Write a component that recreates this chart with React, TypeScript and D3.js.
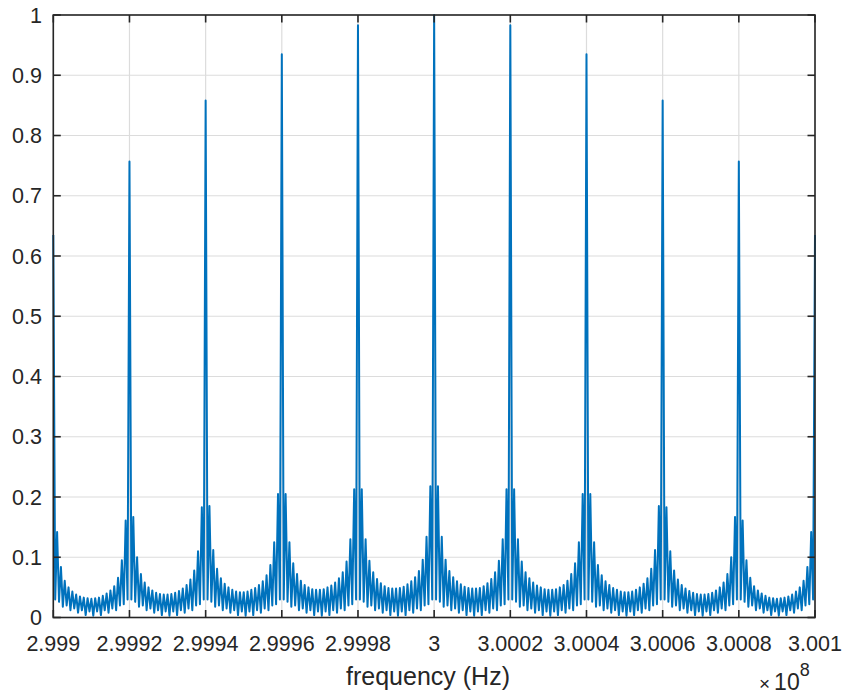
import React from "react";
import * as d3 from "d3";

// ---- data ----
const xTickValues = [2.999, 2.9992, 2.9994, 2.9996, 2.9998, 3, 3.0002, 3.0004, 3.0006, 3.0008, 3.001];
const xTickLabels = ["2.999", "2.9992", "2.9994", "2.9996", "2.9998", "3", "3.0002", "3.0004", "3.0006", "3.0008", "3.001"];
const yTickValues = [0, 0.1, 0.2, 0.3, 0.4, 0.5, 0.6, 0.7, 0.8, 0.9, 1];
const yTickLabels = ["0", "0.1", "0.2", "0.3", "0.4", "0.5", "0.6", "0.7", "0.8", "0.9", "1"];

// main peaks (x 1e8 Hz positions are the tick values)
const peakHeights = [0.635, 0.757, 0.858, 0.935, 0.983, 1.0, 0.983, 0.935, 0.858, 0.757, 0.635];

// upper side-lobe spikes between consecutive peaks (19 per gap)
const seg1 = [0.142, 0.084, 0.061, 0.05, 0.043, 0.038, 0.035, 0.033, 0.032, 0.031, 0.032, 0.033, 0.036, 0.04, 0.045, 0.052, 0.066, 0.095, 0.161];
const seg2 = [0.167, 0.1, 0.072, 0.058, 0.05, 0.045, 0.041, 0.039, 0.038, 0.038, 0.039, 0.041, 0.044, 0.048, 0.054, 0.063, 0.078, 0.11, 0.183];
const seg3 = [0.185, 0.112, 0.081, 0.065, 0.056, 0.05, 0.046, 0.043, 0.042, 0.042, 0.043, 0.046, 0.049, 0.054, 0.06, 0.07, 0.087, 0.125, 0.205];
const seg4 = [0.205, 0.125, 0.09, 0.072, 0.061, 0.054, 0.05, 0.047, 0.046, 0.046, 0.047, 0.05, 0.053, 0.058, 0.065, 0.075, 0.093, 0.13, 0.213];
const seg5 = [0.213, 0.13, 0.094, 0.075, 0.064, 0.057, 0.052, 0.049, 0.048, 0.048, 0.049, 0.051, 0.055, 0.06, 0.067, 0.077, 0.096, 0.134, 0.218];
const seg6 = [0.218, 0.134, 0.096, 0.077, 0.067, 0.06, 0.055, 0.051, 0.049, 0.048, 0.048, 0.049, 0.052, 0.057, 0.064, 0.075, 0.094, 0.13, 0.213];
const seg7 = [0.213, 0.13, 0.093, 0.075, 0.065, 0.058, 0.053, 0.05, 0.047, 0.046, 0.046, 0.047, 0.05, 0.054, 0.061, 0.072, 0.09, 0.125, 0.205];
const seg8 = [0.205, 0.125, 0.087, 0.07, 0.06, 0.054, 0.049, 0.046, 0.043, 0.042, 0.042, 0.043, 0.046, 0.05, 0.056, 0.065, 0.081, 0.112, 0.185];
const seg9 = [0.183, 0.11, 0.078, 0.063, 0.054, 0.048, 0.044, 0.041, 0.039, 0.038, 0.038, 0.039, 0.041, 0.045, 0.05, 0.058, 0.072, 0.1, 0.167];
const seg10 = [0.161, 0.095, 0.066, 0.052, 0.045, 0.04, 0.036, 0.033, 0.032, 0.031, 0.032, 0.033, 0.035, 0.038, 0.043, 0.05, 0.061, 0.084, 0.142];
const sideLobeHighs = [seg1, seg2, seg3, seg4, seg5, seg6, seg7, seg8, seg9, seg10];

// lower points between the spikes (20 per gap)
const sideLobeLows = [0.03, 0.026, 0.018, 0.02, 0.012, 0.015, 0.008, 0.012, 0.004, 0.01, 0.003, 0.01, 0.004, 0.012, 0.008, 0.015, 0.012, 0.02, 0.022, 0.03];

// ---- layout ----
const W = 847;
const H = 700;
const left = 53.3;
const right = 815;
const top = 15;
const bottom = 617.5;

const font = "'Liberation Sans', Arial, Helvetica, sans-serif";
const axisColor = "#262626";
const gridColor = "#dcdcdc";
const lineColor = "#0072BD";

function buildSeries() {
  const pts: { f: number; v: number }[] = [];
  const gaps = peakHeights.length - 1;
  const perGap = sideLobeHighs[0].length + sideLobeLows.length + 1; // samples per gap
  const f0 = xTickValues[0];
  const f1 = xTickValues[xTickValues.length - 1];
  const step = (f1 - f0) / (gaps * perGap);
  let idx = 0;
  for (let k = 0; k < gaps; k++) {
    pts.push({ f: f0 + idx * step, v: peakHeights[k] });
    idx++;
    const highs = sideLobeHighs[k];
    for (let j = 0; j < sideLobeLows.length; j++) {
      pts.push({ f: f0 + idx * step, v: sideLobeLows[j] });
      idx++;
      if (j < highs.length) {
        pts.push({ f: f0 + idx * step, v: highs[j] });
        idx++;
      }
    }
  }
  pts.push({ f: f0 + idx * step, v: peakHeights[gaps] });
  return pts;
}

export default function App() {
  const x = d3.scaleLinear().domain([xTickValues[0], xTickValues[xTickValues.length - 1]]).range([left, right]);
  const y = d3.scaleLinear().domain([0, 1]).range([bottom, top]);
  const series = buildSeries();
  const line = d3
    .line<{ f: number; v: number }>()
    .x((d) => x(d.f))
    .y((d) => y(d.v));
  const tickLen = 7.5;

  return (
    <svg
      width={W}
      height={H}
      style={{ position: "absolute", left: 0, top: 0, background: "#fff" }}
      fontFamily={font}
    >
      <rect x={0} y={0} width={W} height={H} fill="#ffffff" />
      {/* grid */}
      {xTickValues.map((t, i) => (
        <line key={"gx" + i} x1={x(t)} x2={x(t)} y1={top} y2={bottom} stroke={gridColor} strokeWidth={1.2} />
      ))}
      {yTickValues.map((t, i) => (
        <line key={"gy" + i} x1={left} x2={right} y1={y(t)} y2={y(t)} stroke={gridColor} strokeWidth={1.2} />
      ))}
      {/* data */}
      <path d={line(series) || ""} fill="none" stroke={lineColor} strokeWidth={2} strokeLinejoin="round" />
      {/* box */}
      <rect x={left} y={top} width={right - left} height={bottom - top} fill="none" stroke={axisColor} strokeWidth={1.6} />
      {/* ticks */}
      {xTickValues.map((t, i) => (
        <g key={"tx" + i}>
          <line x1={x(t)} x2={x(t)} y1={bottom} y2={bottom - tickLen} stroke={axisColor} strokeWidth={1.6} />
          <line x1={x(t)} x2={x(t)} y1={top} y2={top + tickLen} stroke={axisColor} strokeWidth={1.6} />
        </g>
      ))}
      {yTickValues.map((t, i) => (
        <g key={"ty" + i}>
          <line x1={left} x2={left + tickLen} y1={y(t)} y2={y(t)} stroke={axisColor} strokeWidth={1.6} />
          <line x1={right} x2={right - tickLen} y1={y(t)} y2={y(t)} stroke={axisColor} strokeWidth={1.6} />
        </g>
      ))}
      {/* tick labels */}
      {xTickValues.map((t, i) => (
        <text key={"lx" + i} x={x(t)} y={651} textAnchor="middle" fontSize={21.5} fill={axisColor}>
          {xTickLabels[i]}
        </text>
      ))}
      {yTickValues.map((t, i) => (
        <text key={"ly" + i} x={42} y={y(t) + 7.5} textAnchor="end" fontSize={21.5} fill={axisColor}>
          {yTickLabels[i]}
        </text>
      ))}
      {/* x label */}
      <text x={428} y={685} textAnchor="middle" fontSize={25} fill={axisColor}>
        frequency (Hz)
      </text>
      {/* exponent */}
      <text x={759} y={690} fontSize={23} fill={axisColor}>
        <tspan fontSize={19}>×</tspan>
        <tspan dx={4}>10</tspan>
        <tspan dy={-14} fontSize={18}>8</tspan>
      </text>
    </svg>
  );
}
